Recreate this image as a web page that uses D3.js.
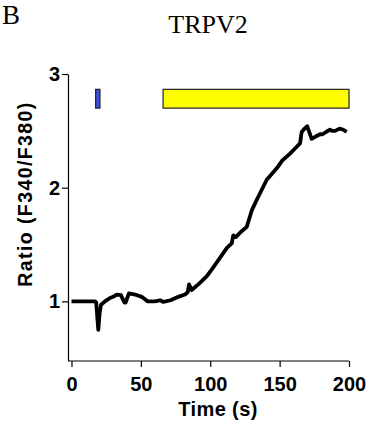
<!DOCTYPE html>
<html>
<head>
<meta charset="utf-8">
<script src="https://cdn.jsdelivr.net/npm/d3@7/dist/d3.min.js"></script>
<style>
  body { margin: 0; background: #fff; }
  svg { display: block; }
  .axis text { font-family: "Liberation Sans", Arial, sans-serif; font-weight: bold; font-size: 20px; fill: #000; }
  .axis path, .axis line { stroke: #000; stroke-width: 1.2px; }
</style>
</head>
<body>
<svg id="chart" width="367" height="427"></svg>
<script>
// trace (time in s, fura-2 ratio)
const time = [0, 17, 17.8, 19.3, 20.3, 21.3, 24.1, 27.7, 30, 32.6, 35.6, 38.1, 39, 41.4, 45.8, 50.6, 54.9, 57, 60.2, 62, 63.8, 66.3,
  71.4, 77, 81.8, 83.8, 84.7, 86.6, 91.4, 97.4, 102.2, 108, 112, 115.5, 116.6, 118.4, 122, 126.3, 129.9, 134.6, 140.7, 147.9,
  152, 157.5, 161.1, 164.7, 165.9, 168, 169.9, 173.1, 176, 179.1, 181, 183.4, 186.3, 187.7, 190, 193.2, 196, 198.3];
const ratio = [1.0, 1.0, 0.99, 0.75, 0.9, 0.97, 1.0, 1.03, 1.04, 1.06, 1.055, 0.99, 0.99, 1.07, 1.06, 1.04, 1.0, 1.0, 1.0, 1.005, 1.01, 0.995,
  1.01, 1.04, 1.06, 1.08, 1.15, 1.1, 1.15, 1.22, 1.30, 1.40, 1.47, 1.51, 1.58, 1.565, 1.61, 1.655, 1.80, 1.92, 2.07, 2.17,
  2.24, 2.30, 2.345, 2.39, 2.49, 2.52, 2.54, 2.43, 2.45, 2.47, 2.47, 2.49, 2.51, 2.50, 2.50, 2.52, 2.51, 2.49];

// stimulus bars
const stimStart = [17.4, 66];
const stimEnd = [20.5, 200];
const stimColor = ["#3b4fe0", "#ffff00"];
const stimTop = 2.865, stimBottom = 2.7;

const xTicks = [0, 50, 100, 150, 200];
const yTicks = [1, 2, 3];

const svg = d3.select("#chart");

const x = d3.scaleLinear().domain([0, 200]).range([71.5, 349]);
const y = d3.scaleLinear().domain([0.48, 3]).range([360.5, 74]);
const axisX = 68;

// stimulus rects
svg.append("g").selectAll("rect")
  .data(stimStart)
  .enter().append("rect")
  .attr("x", d => x(d))
  .attr("y", y(stimTop))
  .attr("width", (d, i) => x(stimEnd[i]) - x(d))
  .attr("height", y(stimBottom) - y(stimTop))
  .attr("fill", (d, i) => stimColor[i])
  .attr("stroke", "#222")
  .attr("stroke-width", 1.2);

// y axis
const gy = svg.append("g")
  .attr("class", "axis")
  .attr("transform", `translate(${axisX},0)`)
  .call(d3.axisLeft(y).tickValues(yTicks).tickSize(6).tickSizeOuter(0).tickPadding(2).tickFormat(d3.format("d")));

// x axis
const gx = svg.append("g")
  .attr("class", "axis")
  .attr("transform", `translate(0,${y.range()[0] + 0.5})`)
  .call(d3.axisBottom(x).tickValues(xTicks).tickSize(6).tickSizeOuter(0).tickPadding(10));
gx.select(".domain").attr("d", `M${axisX},0H${x.range()[1]}`);

// trace
const line = d3.line()
  .x((d, i) => x(time[i]))
  .y(d => y(d))
  .curve(d3.curveLinear);

svg.append("path")
  .datum(ratio)
  .attr("d", line)
  .attr("fill", "none")
  .attr("stroke", "#000")
  .attr("stroke-width", 3.8)
  .attr("stroke-linejoin", "round");

// labels
svg.append("text")
  .attr("x", 218)
  .attr("y", 416)
  .attr("text-anchor", "middle")
  .style("font-family", "'Liberation Sans', Arial, sans-serif")
  .style("font-weight", "bold")
  .style("font-size", "20px")
  .style("letter-spacing", "0.4px")
  .text("Time (s)");

svg.append("text")
  .attr("transform", "translate(32,194) rotate(-90)")
  .attr("text-anchor", "middle")
  .style("font-family", "'Liberation Sans', Arial, sans-serif")
  .style("font-weight", "bold")
  .style("font-size", "19.5px")
  .style("letter-spacing", "1.4px")
  .text("Ratio (F340/F380)");

svg.append("text")
  .attr("x", 208)
  .attr("y", 33)
  .attr("text-anchor", "middle")
  .style("font-family", "'Liberation Serif', 'Times New Roman', serif")
  .style("font-size", "26px")
  .text("TRPV2");

svg.append("text")
  .attr("x", 2)
  .attr("y", 24)
  .style("font-family", "'Liberation Serif', 'Times New Roman', serif")
  .style("font-size", "27px")
  .text("B");
</script>
</body>
</html>
